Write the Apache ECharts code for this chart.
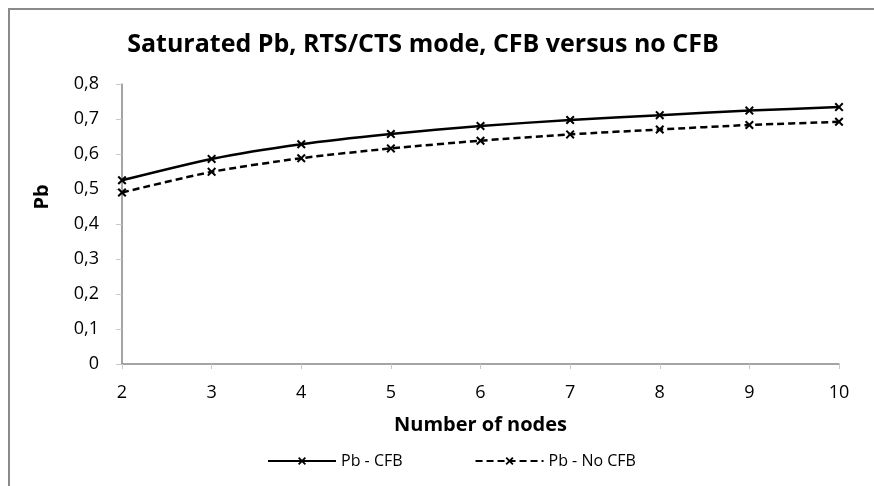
<!DOCTYPE html>
<html>
<head>
<meta charset="utf-8">
<script src="https://cdn.jsdelivr.net/npm/echarts@6/dist/echarts.min.js"></script>
<style>
  html, body { margin: 0; padding: 0; background: #fff; }
  #chart { width: 874px; height: 486px; }
</style>
</head>
<body>
<div id="chart"></div>
<script>
// Number of nodes on the x axis
const nodes = [2, 3, 4, 5, 6, 7, 8, 9, 10];
// Saturated blocking probability with and without CFB
const pbCFB   = [0.525, 0.586, 0.628, 0.657, 0.680, 0.697, 0.711, 0.724, 0.734];
const pbNoCFB = [0.490, 0.549, 0.588, 0.616, 0.638, 0.656, 0.670, 0.683, 0.692];
const yTicks = [0, 0.1, 0.2, 0.3, 0.4, 0.5, 0.6, 0.7, 0.8];

const FONT = '"Open Sans", "Liberation Sans", sans-serif';
const CROSS = 'path://M0,1.6 L1.6,0 L5,3.4 L8.4,0 L10,1.6 L6.6,5 L10,8.4 L8.4,10 L5,6.6 L1.6,10 L0,8.4 L3.4,5 Z';

const chart = echarts.init(document.getElementById('chart'), null, { renderer: 'canvas' });

function pairs(ys) { return nodes.map((n, i) => [n, ys[i]]); }

function lineSeries(name, ys, dash) {
  return {
    name: name,
    type: 'line',
    data: pairs(ys),
    smooth: 0.25,
    symbol: CROSS,
    symbolSize: 9,
    showAllSymbol: true,
    lineStyle: { color: '#000', width: 2.5, type: dash ? [7, 4] : 'solid' },
    itemStyle: { color: '#000' },
    emphasis: { disabled: true },
    animation: false
  };
}

chart.setOption({
  backgroundColor: '#fff',
  animation: false,
  graphic: [{
    type: 'rect',
    shape: { x: 9, y: 9, width: 1000, height: 1000 },
    style: { fill: 'none', stroke: '#8a8a8a', lineWidth: 2 },
    silent: true
  }],
  title: {
    text: 'Saturated Pb, RTS/CTS mode, CFB versus no CFB',
    left: 418, top: 27, textAlign: 'center',
    textStyle: { fontFamily: FONT, fontWeight: 'bold', fontSize: 25, color: '#000' }
  },
  legend: {
    bottom: 12, left: 262,
    itemWidth: 68, itemHeight: 10, itemGap: 72,
    textStyle: { fontFamily: FONT, fontSize: 16, color: '#000' },
    data: ['Pb - CFB', 'Pb - No CFB']
  },
  grid: { left: 122, right: 35, top: 84, bottom: 122, containLabel: false },
  xAxis: {
    type: 'value', min: 2, max: 10, interval: 1,
    name: 'Number of nodes', nameLocation: 'middle', nameGap: 51,
    nameTextStyle: { fontFamily: FONT, fontWeight: 'bold', fontSize: 20, color: '#000' },
    axisLine: { lineStyle: { color: '#868686', width: 1.5 } },
    axisTick: { show: true, length: 5, lineStyle: { color: '#c8c8c8' } },
    splitLine: { show: false },
    axisLabel: { fontFamily: FONT, fontSize: 18, color: '#000', margin: 20 }
  },
  yAxis: {
    type: 'value', min: 0, max: 0.8, interval: 0.1,
    name: 'Pb', nameLocation: 'middle', nameGap: 70, nameRotate: 90,
    nameTextStyle: { fontFamily: FONT, fontWeight: 'bold', fontSize: 20, color: '#000', padding: [0, 0, 0, 54] },
    axisLine: { show: true, lineStyle: { color: '#868686', width: 1.5 } },
    axisTick: { show: true, length: 6, lineStyle: { color: '#c8c8c8' } },
    splitLine: { show: false },
    axisLabel: {
      fontFamily: FONT, fontSize: 18, color: '#000', margin: 23,
      formatter: v => {
        const t = yTicks.find(k => Math.abs(k - v) < 1e-9);
        return String(t === undefined ? v : t).replace('.', ',');
      }
    }
  },
  series: [
    lineSeries('Pb - CFB', pbCFB, false),
    lineSeries('Pb - No CFB', pbNoCFB, true)
  ]
});
</script>
</body>
</html>
